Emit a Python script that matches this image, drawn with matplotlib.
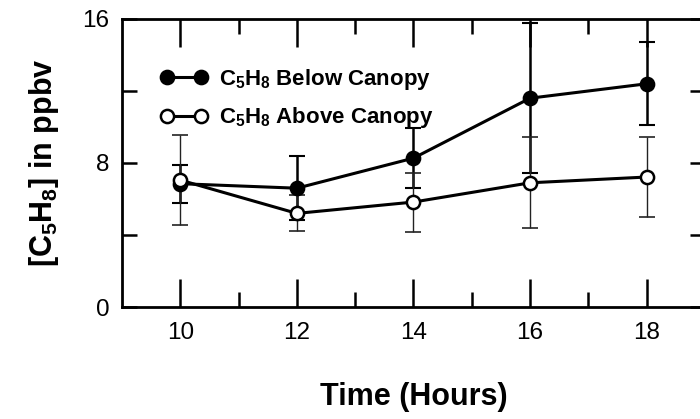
import matplotlib
matplotlib.use('Agg')
import matplotlib.pyplot as plt
from matplotlib.ticker import MultipleLocator, FixedLocator

# values
hours = [10, 12, 14, 16, 18]
below_canopy = [6.85, 6.6, 8.27, 11.6, 12.4]
below_err = [1.05, 1.78, 1.67, 4.15, 2.3]
above_canopy = [7.05, 5.2, 5.83, 6.9, 7.22]
above_err = [2.48, 1.0, 1.64, 2.53, 2.2]

plt.rcParams['font.family'] = ['Liberation Sans', 'DejaVu Sans']
plt.rcParams['mathtext.fontset'] = 'custom'
plt.rcParams['mathtext.rm'] = 'Liberation Sans:bold'
plt.rcParams['mathtext.it'] = 'Liberation Sans:bold'
plt.rcParams['mathtext.bf'] = 'Liberation Sans:bold'

fig = plt.figure(figsize=(7.0, 4.19), dpi=100)
ax = fig.add_axes([0.1743, 0.2673, 0.8328, 0.6874])

# error bars first, lines and markers on top
ax.errorbar(hours, below_canopy, yerr=below_err, fmt='none', ecolor='black',
            elinewidth=1.8, capsize=5.5, capthick=1.5, zorder=2)
ax.errorbar(hours, above_canopy, yerr=above_err, fmt='none', ecolor='#222222',
            elinewidth=1.0, capsize=5.5, capthick=1.2, zorder=2)
l1, = ax.plot(hours, below_canopy, '-o', color='black', lw=2.2, ms=9.5,
              mfc='black', mec='black', mew=1.8, zorder=3)
l2, = ax.plot(hours, above_canopy, '-o', color='black', lw=2.2, ms=9.5,
              mfc='white', mec='black', mew=1.8, zorder=4)

ax.set_xlim(9, 19)
ax.set_ylim(0, 16)
ax.xaxis.set_major_locator(FixedLocator([10, 12, 14, 16, 18]))
ax.xaxis.set_minor_locator(FixedLocator([11, 13, 15, 17]))
ax.yaxis.set_major_locator(MultipleLocator(8))
ax.yaxis.set_minor_locator(FixedLocator([4, 12]))

ax.tick_params(axis='both', which='both', direction='in', top=True, right=True,
               width=1.8, labelsize=17.5)
ax.tick_params(axis='x', which='major', length=20, pad=11)
ax.tick_params(axis='x', which='minor', length=11)
ax.tick_params(axis='y', which='both', length=11, pad=9)
for side in ['left', 'bottom', 'top']:
    ax.spines[side].set_linewidth(2.0)
ax.spines['right'].set_visible(False)

ax.set_xlabel('Time (Hours)', fontsize=22, fontweight='bold')
ax.set_ylabel(r'[$C_5H_8$] in ppbv', fontsize=22, fontweight='bold')
ax.xaxis.set_label_coords(0.5, -0.26)
ax.yaxis.set_label_coords(-0.105, 0.5)

ax.legend([l1, l2], [r'$C_5H_8$ Below Canopy', r'$C_5H_8$ Above Canopy'],
          loc='upper left', bbox_to_anchor=(0.065, 0.835), frameon=False,
          numpoints=2, handlelength=2.13, handletextpad=0.55,
          borderpad=0, borderaxespad=0, labelspacing=0.62,
          prop={'size': 16, 'weight': 'bold'})

fig.savefig('out.png', dpi=100)
